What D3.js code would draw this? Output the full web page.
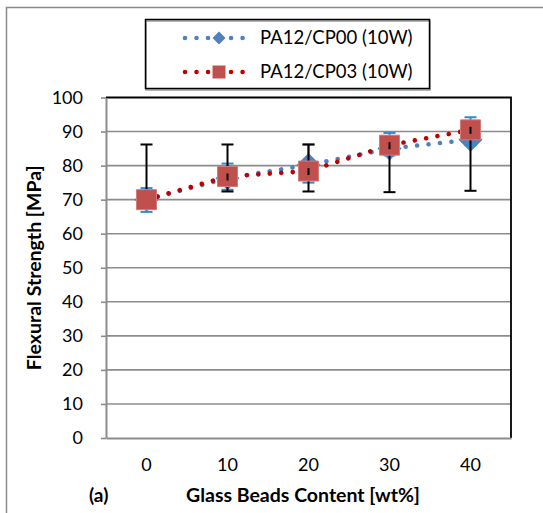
<!DOCTYPE html>
<html><head><meta charset="utf-8">
<script src="https://cdn.jsdelivr.net/npm/d3@7"></script>
<style>body{margin:0;background:#fff}svg{display:block}</style>
</head><body>
<script>
const categories = [0, 10, 20, 30, 40];
const seriesNames = ["PA12/CP00 (10W)", "PA12/CP03 (10W)"];
const cp00 = [70, 76.3, 80.2, 85, 87.6];
const cp03 = [70, 76.8, 78.4, 86, 90.5];
const cp00ErrHi = [73.4, 80.6, 86.2, 89.6, 94.2];
const cp00ErrLo = [66.4, 72.9, 75.0, 83, 86];
const cp03ErrHi = [86.2, 86.2, 86.2, 86, 90.5];
const cp03ErrLo = [69, 72.4, 72.4, 72.2, 72.6];
const yTicks = [0, 10, 20, 30, 40, 50, 60, 70, 80, 90, 100];
const xTitle = "Glass Beads Content [wt%]";
const yTitle = "Flexural Strength [MPa]";
const panelLabel = "(a)";

const W = 543, H = 513;
const FONT = "Lato, 'Open Sans', sans-serif";
const svg = d3.select("body").append("svg").attr("width", W).attr("height", H)
  .style("font-family", FONT);

// outer chart border
svg.append("rect").attr("x", 6.5).attr("y", 7.5).attr("width", W).attr("height", H)
  .attr("fill", "none").attr("stroke", "#8a8a8a").attr("stroke-width", 1.5);

const L = 106, R = 511, T = 97.5, B = 438;
const x = d3.scaleBand().domain(categories).range([L, R]);
const cx = c => x(c) + x.bandwidth() / 2;
const y = d3.scaleLinear().domain([0, 100]).range([B, T]);

// gridlines
svg.append("g").selectAll("line").data(yTicks.filter(t => t > 0 && t < 100)).join("line")
  .attr("x1", L).attr("x2", R).attr("y1", d => y(d)).attr("y2", d => y(d))
  .attr("stroke", "#8c8c8c").attr("stroke-width", 1.6);

// plot frame (black top/right)
svg.append("path").attr("d", `M${L},${T}H${R}V${B}`).attr("fill", "none")
  .attr("stroke", "#000").attr("stroke-width", 1.8);

// y axis
const ya = svg.append("g").attr("transform", `translate(${L},0)`)
  .call(d3.axisLeft(y).tickValues(yTicks).tickSize(5).tickSizeOuter(0).tickPadding(18));
ya.select(".domain").attr("stroke", "#8c8c8c").attr("stroke-width", 2);
ya.selectAll(".tick line").attr("stroke", "#8c8c8c").attr("stroke-width", 1.6);
ya.selectAll("text").attr("font-size", 18).attr("font-family", FONT).attr("fill", "#000");

// x axis
const xa = svg.append("g").attr("transform", `translate(0,${B})`)
  .call(d3.axisBottom(x).tickSize(0).tickPadding(20));
xa.select(".domain").attr("stroke", "#8c8c8c").attr("stroke-width", 2);
xa.selectAll("text").attr("font-size", 18).attr("font-family", FONT).attr("fill", "#000");

// titles
svg.append("text").attr("x", 303).attr("y", 502).attr("text-anchor", "middle")
  .attr("font-weight", "bold").attr("font-size", 19.5).text(xTitle);
svg.append("text").attr("x", 89).attr("y", 502)
  .attr("font-weight", "bold").attr("font-size", 19).text(panelLabel);
svg.append("text").attr("transform", `translate(41,${(T + B) / 2}) rotate(-90)`)
  .attr("text-anchor", "middle").attr("font-weight", "bold").attr("font-size", 19.5).text(yTitle);

const BLUE = "#4f81bd", BLUECAP = "#2f8bd6", RED = "#c0504d", DOTRED = "#c00000";
const line = d3.line().x((d, i) => cx(categories[i])).y(d => y(d));
const dotStyle = (sel, col) => sel.attr("fill", "none").attr("stroke", col).attr("stroke-width", 4.6)
  .attr("stroke-linecap", "round").attr("stroke-dasharray", "0.01 11.5");

// blue series line
svg.append("path").datum(cp00).attr("d", line).call(dotStyle, BLUE);
// blue diamonds
const diamond = d3.symbol().type(d3.symbolSquare).size(289);
svg.append("g").selectAll("path").data(cp00).join("path")
  .attr("d", diamond)
  .attr("transform", (d, i) => `translate(${cx(categories[i])},${y(d)}) rotate(45)`)
  .attr("fill", BLUE);

// error bars helper
function errBars(lo, hi, col) {
  const g = svg.append("g").attr("stroke", col).attr("stroke-width", 2);
  categories.forEach((c, i) => {
    const xx = cx(c);
    g.append("line").attr("x1", xx).attr("x2", xx).attr("y1", y(lo[i])).attr("y2", y(hi[i]));
    g.append("line").attr("x1", xx - 6).attr("x2", xx + 6).attr("y1", y(lo[i])).attr("y2", y(lo[i]));
    g.append("line").attr("x1", xx - 6).attr("x2", xx + 6).attr("y1", y(hi[i])).attr("y2", y(hi[i]));
  });
}
errBars(cp00ErrLo, cp00ErrHi, BLUECAP);
errBars(cp03ErrLo, cp03ErrHi, "#000");

// red series
svg.append("path").datum(cp03).attr("d", line).call(dotStyle, DOTRED);
const square = d3.symbol().type(d3.symbolSquare).size(400);
svg.append("g").selectAll("path").data(cp03).join("path")
  .attr("d", square)
  .attr("transform", (d, i) => `translate(${cx(categories[i])},${y(d)})`)
  .attr("fill", RED).attr("stroke", "#d47a78").attr("stroke-width", 1);
// small black ticks visible within squares
svg.append("g").selectAll("line").data(cp03.slice(1)).join("line")
  .attr("x1", (d, i) => cx(categories[i + 1])).attr("x2", (d, i) => cx(categories[i + 1]))
  .attr("y1", d => y(d) - 3).attr("y2", d => y(d) + 4)
  .attr("stroke", "#000").attr("stroke-width", 2);

// legend
const lg = svg.append("g");
lg.append("rect").attr("x", 146).attr("y", 21).attr("width", 284).attr("height", 69)
  .attr("fill", "none").attr("stroke", "#9a9a9a").attr("stroke-width", 1.5);
lg.append("rect").attr("x", 145.5).attr("y", 19.5).attr("width", 284).attr("height", 69)
  .attr("fill", "none").attr("stroke", "#000").attr("stroke-width", 1.5);
const legY = [38, 72];
[[BLUE, "d"], [DOTRED, "s"]].forEach(([col, kind], k) => {
  const yy = legY[k];
  lg.append("path").attr("d", `M185,${yy}H245`).call(dotStyle, col);
  if (kind === "d") {
    lg.append("path").attr("d", d3.symbol().type(d3.symbolSquare).size(85)())
      .attr("transform", `translate(219,${yy}) rotate(45)`).attr("fill", BLUE);
  } else {
    lg.append("path").attr("d", d3.symbol().type(d3.symbolSquare).size(169)())
      .attr("transform", `translate(219,${yy})`).attr("fill", RED);
  }
  lg.append("text").attr("x", 260).attr("y", yy).attr("dy", "0.35em")
    .attr("font-size", 18.5).text(seriesNames[k]);
});
</script>
</body></html>
